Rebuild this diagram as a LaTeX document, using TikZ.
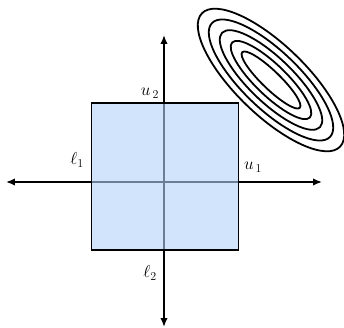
\documentclass[tikz,border=0pt]{standalone}
\usepackage{tikz}
\usetikzlibrary{arrows.meta, positioning}

\begin{document}
\begin{tikzpicture}[
    x=1pt, y=1pt,
    axis/.style={-{Latex[length=9pt,width=7.5pt]}, line width=1.6pt},
    box/.style={
        rectangle, draw, line width=1.4pt,
        fill={rgb,255:red,180;green,210;blue,250}, fill opacity=0.6,
        minimum width=147pt, minimum height=147pt
    },
    contour/.style={draw, line width=1.8pt},
    lbl/.style={font=\LARGE, inner sep=0pt},
]
\useasboundingbox (-164,-146) rectangle (180,182);

% axis ends
\coordinate (origin) at (0,0);
\coordinate (xleft)  at (-158,0);
\coordinate (xright) at (158,0);
\coordinate (ytop)   at (0,147);
\coordinate (ybot)   at (0,-145);

\draw[axis] (origin) -- (xleft);
\draw[axis] (origin) -- (xright);
\draw[axis] (origin) -- (ytop);
\draw[axis] (origin) -- (ybot);

% feasible box
\node[box] (feasible) at (1.2,5.3) {};

% level sets
\foreach \a/\b in {40/9, 54/15.5, 68/22, 82/28.5, 96/35}
    \draw[contour] (107,102) ellipse[x radius=\a, y radius=\b, rotate=-44];

\node[lbl] (l1) at (-87,22)  {$\ell_1$};
\node[lbl] (u1) at (89,15)   {$u_{\,1}$};
\node[lbl] (u2) at (-14,89)  {$u_{\,2}$};
\node[lbl] (l2) at (-14,-91) {$\ell_2$};

\end{tikzpicture}
\end{document}
